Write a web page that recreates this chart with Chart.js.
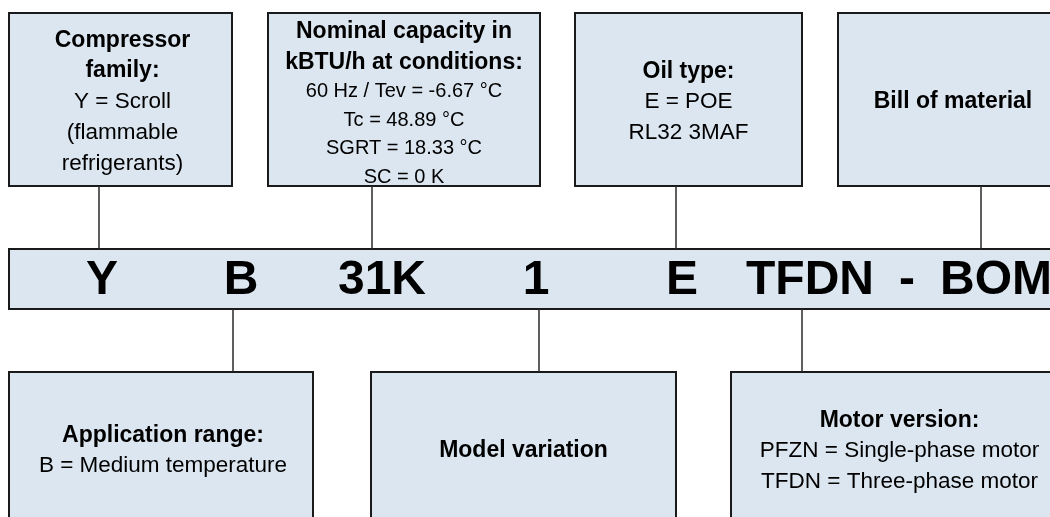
<!DOCTYPE html>
<html>
<head>
<meta charset="utf-8">
<script src="https://cdn.jsdelivr.net/npm/chart.js@4/dist/chart.umd.min.js"></script>
<style>
html,body{margin:0;padding:0;background:#fff;}
#wrap{width:1050px;height:517px;position:relative;}
</style>
</head>
<body>
<div id="wrap"><canvas id="c"></canvas></div>
<script>
// ---- content data ----
const codeSegments = ["Y", "B", "31K", "1", "E", "TFDN", "-", "BOM"];
const topBoxTexts = [
  [["Compressor", "b"], ["family:", "b"], ["Y = Scroll", "n"], ["(flammable", "n"], ["refrigerants)", "n"]],
  [["Nominal capacity in", "b"], ["kBTU/h at conditions:", "b"], ["60 Hz / Tev = -6.67 °C", "s"], ["Tc = 48.89 °C", "s"], ["SGRT = 18.33 °C", "s"], ["SC = 0 K", "s"]],
  [["Oil type:", "b"], ["E = POE", "n"], ["RL32 3MAF", "n"]],
  [["Bill of material", "b"]]
];
const bottomBoxTexts = [
  [["Application range:", "b"], ["B = Medium temperature", "n"]],
  [["Model variation", "b"]],
  [["Motor version:", "b"], ["PFZN = Single-phase motor", "n"], ["TFDN = Three-phase motor", "n"]]
];
// which code segment each box explains
const topBoxSegment = [0, 2, 4, 7];
const bottomBoxSegment = [1, 3, 5];

// ---- layout (diagram units = pixels) ----
const layout = {
  topBoxX: [[9, 232], [268, 540], [575, 802], [838, 1068]],
  topBoxY: [13, 186],
  barX: [9, 1075], barY: [249, 309],
  bottomBoxX: [[9, 313], [371, 676], [731, 1068]],
  bottomBoxY: [372, 530],
  segX: [102, 241, 382, 536, 682, 810, 907, 996],
  topLinkX: [99, 372, 676, 981],
  bottomLinkX: [233, 539, 802],
  topTextShift: [2.5, 4.5, 2.5, 2.5]
};
const style = {
  fill: "#dce6f0", border: "#1a1a1a", link: "#2b2b2b",
  font: "'Liberation Sans', Arial, Helvetica, sans-serif",
  lineH: { b: 30.5, n: 30.8, s: 28.5 },
  size: { b: 23, n: 22.5, s: 20 }
};

// connector datasets built from the data
const datasets = [];
topBoxSegment.forEach((s, i) => {
  const x = layout.topLinkX[i];
  datasets.push({ type: 'line', data: [{x: x, y: layout.topBoxY[1]}, {x: x, y: layout.barY[0]}],
    borderColor: style.link, borderWidth: 1.5, pointRadius: 0, showLine: true });
});
bottomBoxSegment.forEach((s, i) => {
  const x = layout.bottomLinkX[i];
  datasets.push({ type: 'line', data: [{x: x, y: layout.barY[1]}, {x: x, y: layout.bottomBoxY[0]}],
    borderColor: style.link, borderWidth: 1.5, pointRadius: 0, showLine: true });
});

const boxPlugin = {
  id: 'boxes',
  beforeDatasetsDraw(chart) {
    const ctx = chart.ctx, xs = chart.scales.x, ys = chart.scales.y;
    const rect = (x0, x1, y0, y1) => {
      const px0 = xs.getPixelForValue(x0), px1 = xs.getPixelForValue(x1);
      const py0 = ys.getPixelForValue(y0), py1 = ys.getPixelForValue(y1);
      ctx.fillStyle = style.fill;
      ctx.fillRect(px0, py0, px1 - px0, py1 - py0);
      ctx.lineWidth = 2;
      ctx.strokeStyle = style.border;
      ctx.strokeRect(px0, py0, px1 - px0, py1 - py0);
    };
    ctx.save();
    layout.topBoxX.forEach(b => rect(b[0], b[1], layout.topBoxY[0], layout.topBoxY[1]));
    rect(layout.barX[0], layout.barX[1], layout.barY[0], layout.barY[1]);
    layout.bottomBoxX.forEach(b => rect(b[0], b[1], layout.bottomBoxY[0], layout.bottomBoxY[1]));
    ctx.restore();
  },
  afterDatasetsDraw(chart) {
    const ctx = chart.ctx, xs = chart.scales.x, ys = chart.scales.y;
    ctx.save();
    ctx.textAlign = 'center';
    ctx.textBaseline = 'middle';
    ctx.fillStyle = '#000';
    const drawLines = (lines, cx, cy) => {
      const total = lines.reduce((a, l) => a + style.lineH[l[1]], 0);
      let y = cy - total / 2;
      lines.forEach(l => {
        const h = style.lineH[l[1]];
        ctx.font = (l[1] === 'b' ? 'bold ' : '') + style.size[l[1]] + 'px ' + style.font;
        ctx.fillText(l[0], xs.getPixelForValue(cx), ys.getPixelForValue(y + h / 2));
        y += h;
      });
    };
    topBoxTexts.forEach((lines, i) => {
      const b = layout.topBoxX[i];
      drawLines(lines, (b[0] + b[1]) / 2 + (i === 0 ? 2 : 0), (layout.topBoxY[0] + layout.topBoxY[1]) / 2 + layout.topTextShift[i]);
    });
    bottomBoxTexts.forEach((lines, i) => {
      const b = layout.bottomBoxX[i];
      drawLines(lines, (b[0] + b[1]) / 2 + (i === 0 ? 2 : 0), (layout.bottomBoxY[0] + layout.bottomBoxY[1]) / 2);
    });
    ctx.font = 'bold 48px ' + style.font;
    codeSegments.forEach((s, i) => {
      ctx.fillText(s, xs.getPixelForValue(layout.segX[i]), ys.getPixelForValue((layout.barY[0] + layout.barY[1]) / 2 + 1.5));
    });
    ctx.restore();
  }
};

new Chart(document.getElementById('c'), {
  type: 'scatter',
  data: { datasets: datasets },
  options: {
    responsive: true, maintainAspectRatio: false, animation: false,
    layout: { padding: 0 },
    plugins: { legend: { display: false }, tooltip: { enabled: false } },
    scales: {
      x: { type: 'linear', min: 0, max: 1050, display: false },
      y: { type: 'linear', min: 0, max: 517, reverse: true, display: false }
    }
  },
  plugins: [boxPlugin]
});
</script>
</body>
</html>
